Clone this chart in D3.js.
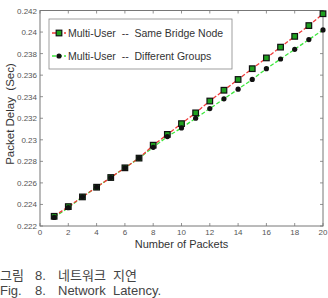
<!DOCTYPE html>
<html lang="ko">
<head>
<meta charset="UTF-8">
<title>Network Latency</title>
<script src="https://cdn.jsdelivr.net/npm/d3@7/dist/d3.min.js"></script>
<style>
  body { margin: 0; background: #fff; }
  svg { display: block; font-family: "Liberation Sans", Arial, sans-serif; }
</style>
</head>
<body>
<div id="chart"></div>
<script>
// data
const packets = [1, 2, 3, 4, 5, 6, 7, 8, 9, 10, 11, 12, 13, 14, 15, 16, 17, 18, 19, 20];
const sameBridge = [0.2229, 0.2238, 0.2247, 0.2256, 0.2265, 0.2274, 0.2283, 0.2295, 0.2305, 0.2315,
                    0.2325, 0.2336, 0.2346, 0.2356, 0.2366, 0.2376, 0.2386, 0.2396, 0.2406, 0.2417];
const diffGroups = [0.2228, 0.2237, 0.2247, 0.2256, 0.2265, 0.2274, 0.2283, 0.2293, 0.2303, 0.2311,
                    0.2320, 0.2329, 0.2338, 0.2347, 0.2356, 0.2366, 0.2375, 0.2384, 0.2393, 0.2402];
const xTicks = [0, 2, 4, 6, 8, 10, 12, 14, 16, 18, 20];
const yTicks = [0.222, 0.224, 0.226, 0.228, 0.23, 0.232, 0.234, 0.236, 0.238, 0.24, 0.242];
const yTickLabels = ["0.222", "0.224", "0.226", "0.228", "0.23", "0.232", "0.234", "0.236", "0.238", "0.24", "0.242"];
const legendLabels = ["Multi-User  --  Same Bridge Node", "Multi-User  --  Different Groups"];

const W = 328, H = 298;
const m = { left: 40, right: 5, top: 10.5, bottom: 72 };

const svg = d3.select("#chart").append("svg").attr("width", W).attr("height", H);

const x = d3.scaleLinear().domain([0, 20]).range([m.left, W - m.right]);
const y = d3.scaleLinear().domain([0.222, 0.242]).range([H - m.bottom, m.top]);

const x0 = x.range()[0], x1 = x.range()[1], y0 = y.range()[0], y1 = y.range()[1];

// axes box
svg.append("rect").attr("x", x0).attr("y", y1).attr("width", x1 - x0).attr("height", y0 - y1)
  .attr("fill", "none").attr("stroke", "#777").attr("stroke-width", 1);

// inside ticks, all four sides
const tk = 3;
const tg = svg.append("g").attr("stroke", "#777").attr("stroke-width", 0.8);
xTicks.forEach(v => {
  tg.append("line").attr("x1", x(v)).attr("x2", x(v)).attr("y1", y0).attr("y2", y0 - tk);
  tg.append("line").attr("x1", x(v)).attr("x2", x(v)).attr("y1", y1).attr("y2", y1 + tk);
});
yTicks.forEach(v => {
  tg.append("line").attr("x1", x0).attr("x2", x0 + tk).attr("y1", y(v)).attr("y2", y(v));
  tg.append("line").attr("x1", x1).attr("x2", x1 - tk).attr("y1", y(v)).attr("y2", y(v));
});

// tick labels
svg.append("g").selectAll("text").data(xTicks).join("text")
  .attr("x", d => x(d)).attr("y", y0 + 9)
  .attr("text-anchor", "middle").attr("font-size", 8).attr("fill", "#555")
  .text(d => d);
svg.append("g").selectAll("text").data(yTicks).join("text")
  .attr("x", x0 - 3).attr("y", d => y(d) + 3)
  .attr("text-anchor", "end").attr("font-size", 8).attr("fill", "#555")
  .text((d, i) => yTickLabels[i]);

// axis titles
svg.append("text").attr("x", (x0 + x1) / 2).attr("y", y0 + 22)
  .attr("text-anchor", "middle").attr("font-size", 11).attr("fill", "#333")
  .text("Number of Packets");
svg.append("text").attr("transform", "translate(14,114) rotate(-90)")
  .attr("text-anchor", "middle").attr("font-size", 11.5).attr("fill", "#333")
  .style("white-space", "pre")
  .text("Packet Delay  (Sec)");

// series
const line = d3.line().x((d, i) => x(packets[i])).y(d => y(d));

svg.append("path").datum(diffGroups).attr("d", line)
  .attr("fill", "none").attr("stroke", "#3ee83e").attr("stroke-width", 1.3)
  .attr("stroke-dasharray", "4,2");
svg.append("path").datum(sameBridge).attr("d", line)
  .attr("fill", "none").attr("stroke", "#f03a3a").attr("stroke-width", 1.3)
  .attr("stroke-dasharray", "4,2");

svg.append("g").selectAll("rect").data(sameBridge).join("rect")
  .attr("x", (d, i) => x(packets[i]) - 2.8).attr("y", d => y(d) - 2.8)
  .attr("width", 5.6).attr("height", 5.6)
  .attr("fill", "#1fa01f").attr("stroke", "#111").attr("stroke-width", 1.2);
svg.append("g").selectAll("circle").data(diffGroups).join("circle")
  .attr("cx", (d, i) => x(packets[i])).attr("cy", d => y(d)).attr("r", 2.6)
  .attr("fill", "#111");

// legend
const lg = svg.append("g");
lg.append("rect").attr("x", 49).attr("y", 19).attr("width", 183).attr("height", 50)
  .attr("fill", "#fff").attr("stroke", "#888").attr("stroke-width", 0.8);
const rows = [33, 56];
lg.append("line").attr("x1", 52).attr("x2", 66).attr("y1", rows[0]).attr("y2", rows[0])
  .attr("stroke", "#f03a3a").attr("stroke-width", 1.3).attr("stroke-dasharray", "4,2");
lg.append("rect").attr("x", 56.2).attr("y", rows[0] - 2.8).attr("width", 5.6).attr("height", 5.6)
  .attr("fill", "#1fa01f").attr("stroke", "#111").attr("stroke-width", 1.2);
lg.append("line").attr("x1", 52).attr("x2", 66).attr("y1", rows[1]).attr("y2", rows[1])
  .attr("stroke", "#3ee83e").attr("stroke-width", 1.3).attr("stroke-dasharray", "4,2");
lg.append("circle").attr("cx", 59).attr("cy", rows[1]).attr("r", 2.6).attr("fill", "#111");
lg.selectAll("text.l").data(legendLabels).join("text")
  .attr("x", 68).attr("y", (d, i) => rows[i] + 4)
  .attr("font-size", 10.5).attr("fill", "#333")
  .style("white-space", "pre")
  .text(d => d);

// caption
const cap = svg.append("g").attr("font-size", 13).attr("fill", "#444");
cap.append("text").attr("x", 0).attr("y", 280).attr("font-family", "'Noto Sans CJK KR', sans-serif").text("그림");
cap.append("text").attr("x", 35).attr("y", 280).text("8.");
cap.append("text").attr("x", 58).attr("y", 280).attr("font-family", "'Noto Sans CJK KR', sans-serif").text("네트워크  지연").style("white-space", "pre");
cap.append("text").attr("x", 0).attr("y", 295).text("Fig.");
cap.append("text").attr("x", 35).attr("y", 295).text("8.");
cap.append("text").attr("x", 58).attr("y", 295).text("Network  Latency.").style("white-space", "pre");
</script>
</body>
</html>
